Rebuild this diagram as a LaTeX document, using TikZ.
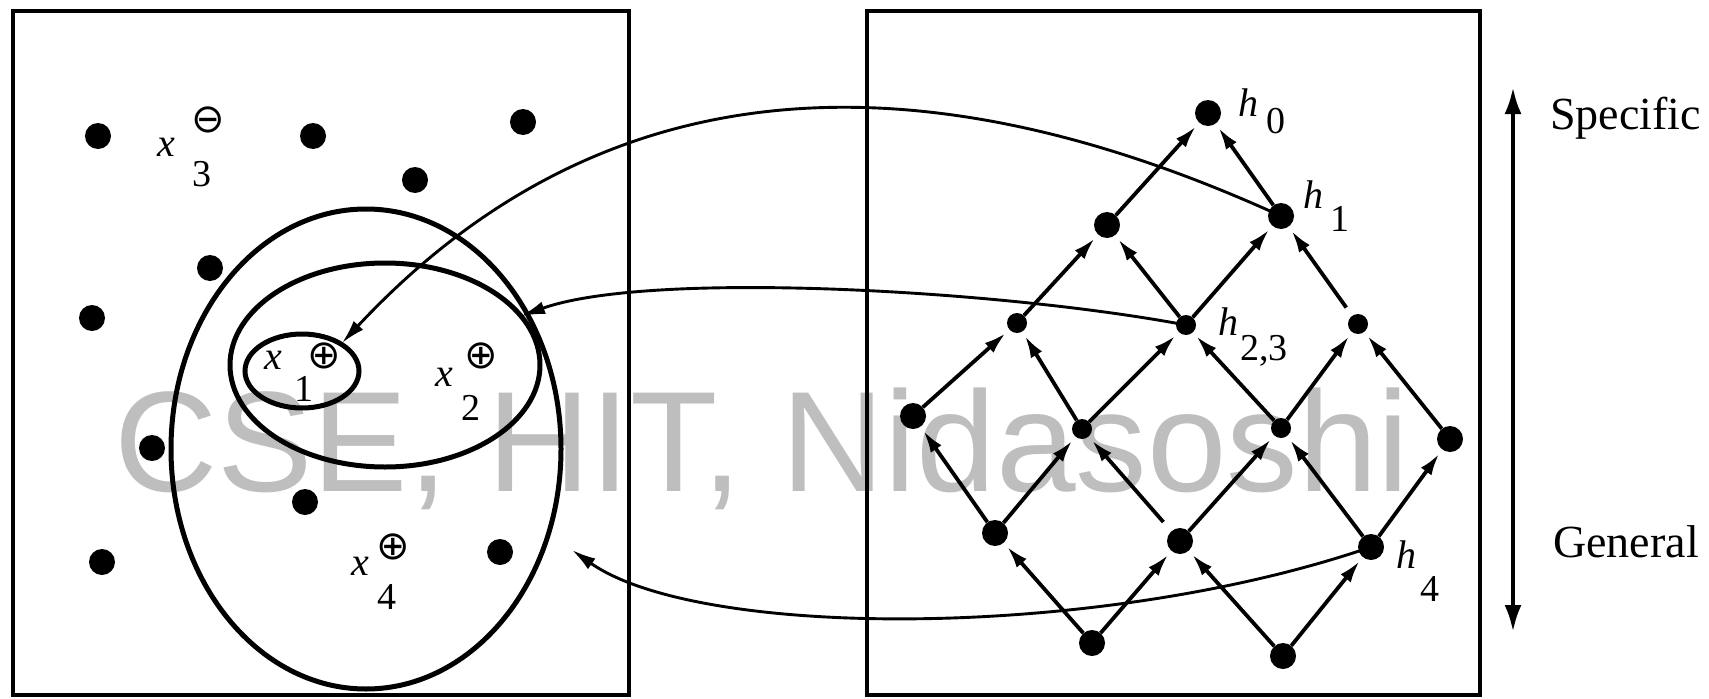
\documentclass[tikz,border=0pt]{standalone}
\usepackage{fontspec}
\setmainfont{Liberation Serif}
\newfontfamily\wmfont{Liberation Sans}
\newfontfamily\symfont{DejaVu Sans}
\usetikzlibrary{arrows.meta}
\definecolor{wmgray}{RGB}{190,190,190}
\begin{document}
\begin{tikzpicture}[x=1pt,y=-1pt,
  bigdot/.style={circle,fill=black,inner sep=0pt,minimum size=26pt},
  smalldot/.style={circle,fill=black,inner sep=0pt,minimum size=20pt},
  latedge/.style={line width=3.8pt,-{Latex[length=22pt,width=13pt]},shorten >=5pt},
  curvearrow/.style={line width=2.9pt,-{Latex[length=24pt,width=13pt]}},
  panel/.style={draw,line width=3.6pt},
  setline/.style={draw,line width=5pt},
  lab/.style={inner sep=0pt,font=\fontsize{38}{38}\selectfont},
  ilab/.style={inner sep=0pt,font=\fontsize{40}{40}\selectfont\itshape},
  sym/.style={inner sep=0pt,font=\symfont\fontsize{40}{40}\selectfont},
  side/.style={inner sep=0pt,anchor=west,font=\fontsize{46}{46}\selectfont}
]
\useasboundingbox (0,0) rectangle (1709,699);
\fill[white] (0,0) rectangle (1709,699);
% watermark
\node[anchor=base west,inner sep=0pt,text=wmgray,font=\wmfont\fontsize{143}{143}\selectfont] (wm) at (114,491) {CSE, HIT, Nidasoshi};
% panels
\draw[panel] (13,11) rectangle (629,695);
\draw[panel] (867,11) rectangle (1480,695);
% instance space dots
\foreach \p [count=\i] in {(98,136),(313,136),(523,122),(415,180),(210,268),(92,318),(152,448),(305,502),(102,562),(500,552)}
  \node[bigdot] (d\i) at \p {};
% sets
\draw[setline] (366,449) ellipse [x radius=195,y radius=240];
\draw[setline] (385,365) ellipse [x radius=155,y radius=102];
\draw[setline] (302,371) ellipse [x radius=57,y radius=37];
% instance labels
\node[ilab] (x3) at (166,147) {x};
\node[sym] (x3s) at (208,120) {⊖};
\node[lab] (x3n) at (202,174) {3};
\node[ilab] (x1) at (273,360) {x};
\node[sym] (x1s) at (324,356) {⊕};
\node[lab] (x1n) at (304,389) {1};
\node[ilab] (x2) at (444,377) {x};
\node[sym] (x2s) at (481,356) {⊕};
\node[lab] (x2n) at (471,408) {2};
\node[ilab] (x4) at (360,566) {x};
\node[sym] (x4s) at (393,547) {⊕};
\node[lab] (x4n) at (387,597) {4};
% lattice
\node[bigdot] (h0) at (1208,113) {};
\node[bigdot] (n21) at (1107,225) {};
\node[bigdot] (h1) at (1281,216) {};
\node[smalldot] (n31) at (1017,323) {};
\node[smalldot] (h23) at (1186,325) {};
\node[smalldot] (n33) at (1358,324) {};
\node[bigdot] (n41) at (913,416) {};
\node[smalldot] (n42) at (1082,429) {};
\node[smalldot] (n43) at (1281,428) {};
\node[bigdot] (n44) at (1450,439) {};
\node[bigdot] (n51) at (995,533) {};
\node[bigdot] (n52) at (1180,541) {};
\node[bigdot] (h4) at (1371,547) {};
\node[bigdot] (n61) at (1092,643) {};
\node[bigdot] (n62) at (1283,656) {};
\foreach \a/\b in {n21/h0,h1/h0,n31/n21,h23/n21,h23/h1,n41/n31,n42/n31,n42/h23,n43/h23,n43/n33,n44/n33,n51/n41,n51/n42,n52/n43,h4/n43,h4/n44,n61/n51,n61/n52,n62/n52,n62/h4}
  \draw[latedge] (\a) -- (\b);
\draw[latedge,shorten <=10pt] (n33) -- (h1);
\draw[latedge,shorten <=12pt] (n52) -- (n42);
% lattice labels
\node[ilab] (h0l) at (1248,103) {h};
\node[lab] (h0n) at (1276,121) {0};
\node[ilab] (h1l) at (1313,195) {h};
\node[lab] (h1n) at (1340,219) {1};
\node[ilab] (h23l) at (1228,322) {h};
\node[lab] (h23n) at (1264,351) {2,3};
\node[ilab] (h4l) at (1406,555) {h};
\node[lab] (h4n) at (1430,589) {4};
% mapping curves
\coordinate (t1) at (342,343);
\coordinate (t2) at (521,316);
\coordinate (t4) at (572,550);
\draw[curvearrow] (h1.center) .. controls (950,65) and (620,45) .. (t1);
\draw[curvearrow] (h23.center) .. controls (1000,290) and (650,270) .. (t2);
\draw[curvearrow] (h4.center) .. controls (1100,640) and (700,640) .. (t4);
% specific / general axis
\coordinate (atop) at (1513,87);
\coordinate (abot) at (1513,632);
\draw[line width=4.2pt,{Latex[length=27pt,width=17pt]}-{Latex[length=27pt,width=17pt]}] (atop) -- (abot);
\node[side] (spec) at (1550,118) {Specific};
\node[side] (gen) at (1553,542) {General};
\end{tikzpicture}
\end{document}
